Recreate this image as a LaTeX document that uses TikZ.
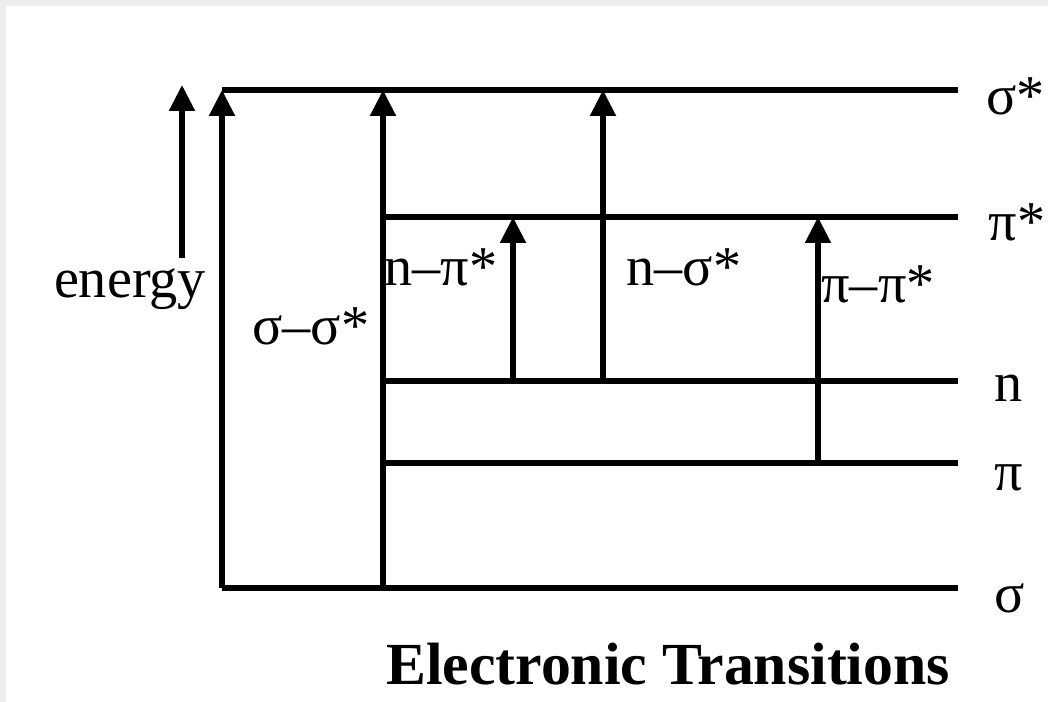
\documentclass[tikz,border=0pt]{standalone}
\usepackage{fontspec}
\setmainfont{Liberation Serif}
\usetikzlibrary{arrows.meta}

\begin{document}
\begin{tikzpicture}[x=0.02cm, y=-0.02cm, line width=3pt,
    trans/.style={-{Triangle[width=0.5cm,length=0.52cm]}},
    txt/.style={font=\fontsize{32}{38}\selectfont, inner sep=0pt}]

  % The scanned page with its grey edge
  \fill[black!7] (0,0) rectangle (1048,702);
  \fill[white] (6,6) rectangle (1048,702);
  \useasboundingbox (0,0) rectangle (1048,702);

  % The five levels
  \coordinate (sigs) at (222,90);  \coordinate (sigsR) at (958,90);
  \coordinate (pis)  at (383,217); \coordinate (pisR)  at (958,217);
  \coordinate (lvn)  at (383,381); \coordinate (lvnR)  at (958,381);
  \coordinate (lvpi) at (383,463); \coordinate (lvpiR) at (958,463);
  \coordinate (sig)  at (222,588); \coordinate (sigR)  at (958,588);

  \draw (sigs) -- (sigsR);
  \draw (pis) -- (pisR);
  \draw (lvn) -- (lvnR);
  \draw (lvpi) -- (lvpiR);
  \draw (sig) -- (sigR);

  % Level names
  \node[txt, anchor=base west] (tsigs) at (984,115) {σ*};
  \node[txt, anchor=base west] (tpis)  at (986,241) {π*};
  \node[txt, anchor=base west] (tn)    at (992,401) {n};
  \node[txt, anchor=base west] (tpi)   at (992,490) {π};
  \node[txt, anchor=base west] (tsig)  at (992,612) {σ};

  % Energy axis
  \coordinate (e0) at (182,258);
  \coordinate (e1) at (182,85);
  \draw[trans] (e0) -- (e1);
  \node[txt, anchor=base] (tenergy) at (130,298) {energy};

  % Transitions
  \coordinate (npi)  at (513,381);
  \coordinate (nsig) at (603,381);
  \coordinate (pipi) at (818,463);

  \draw[trans] (sig) -- (sigs);
  \draw[trans] (sig -| pis) -- (pis |- sigs);
  \draw[trans] (npi) -- (npi |- pis);
  \draw[trans] (nsig) -- (nsig |- sigs);
  \draw[trans] (pipi) -- (pipi |- pis);

  \node[txt, anchor=base] (tss) at (311,345) {σ–σ*};
  \node[txt, anchor=base] (tnp) at (441,286) {n–π*};
  \node[txt, anchor=base] (tns) at (684,286) {n–σ*};
  \node[txt, anchor=base] (tpp) at (878,303) {π–π*};

  % Caption
  \node[font=\fontsize{34}{40}\selectfont\bfseries, anchor=base] (title)
    at (668,684) {Electronic Transitions};

\end{tikzpicture}
\end{document}
